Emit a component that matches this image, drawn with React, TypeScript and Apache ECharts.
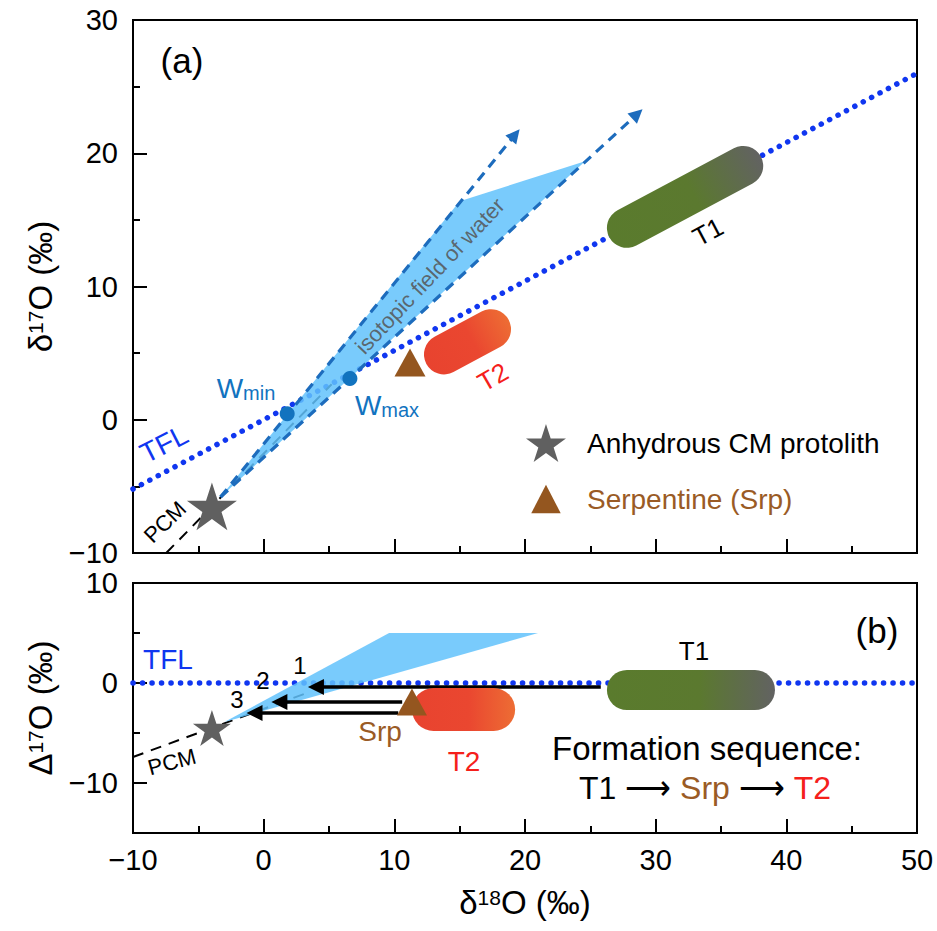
import React, { useEffect, useRef } from "react";
import * as echarts from "echarts";

// ---------- data ----------
const X_RANGE = [-10, 50];
const Y_TOP_RANGE = [-10, 30];
const Y_BOT_RANGE = [-15, 10];
const Y_BOT_LABELS = [-10, 0, 10];
const Y_BOT_MINOR = [-5, 5];

// terrestrial fractionation line
const TFL_TOP = [[-10, -5.2], [50, 26.0]];
const TFL_BOT = [[-10, 0], [50, 0]];
// primitive chondrite mineral line
const PCM_TOP = [[-7.46, -10], [5.2, 2.66]];
const PCM_BOT = [[-10, -7.4], [3.5, -0.9]];
// isotopic field of water
const FIELD_TOP = [[-3.3, -5.8], [15.0, 16.4], [24.6, 19.4]];
const FIELD_BOT = [[-3.0, -3.9], [9.6, 5.0], [21.0, 5.0]];
const WATER_HIGH = [[-3.3, -5.8], [19.25, 21.4]];
const WATER_LOW = [[-3.3, -5.8], [28.6, 22.95]];
const W_MIN = [1.8, 0.45];
const W_MAX = [6.6, 3.1];
// samples
const PROTOLITH_TOP = [-3.96, -6.5];
const PROTOLITH_BOT = [-3.96, -4.5];
const SRP_TOP = [11.2, 4.3];
const SRP_BOT = [11.35, -1.9];
const T1_TOP = [[27.8, 14.4], [36.7, 19.05]];
const T2_TOP = [[13.8, 4.9], [17.4, 6.8]];
const T1_BOT = [[27.8, -0.7], [37.6, -0.7]];
const T2_BOT = [[13.0, -2.65], [17.6, -2.65]];
// formation sequence arrows (Δ17O panel)
const ARROW_1 = [[25.8, -0.4], [4.0, -0.4]];
const ARROW_2 = [[10.6, -1.9], [1.2, -1.9]];
const ARROW_3 = [[10.3, -3.0], [-0.7, -3.0]];

// ---------- styles ----------
const FONT = "Liberation Sans, Arial, Helvetica, sans-serif";
const C_TFL = "#1036f0";
const C_FIELD = "#62c2fb";
const C_WATER = "#1d6cbd";
const C_W = "#1273bf";
const C_STAR = "#606060";
const C_SRP = "#94561f";
const C_SRP_TXT = "#9a5b25";
const C_T2_TXT = "#f5201b";
const STAR =
  "path://M0,-10L2.245,-3.09L9.511,-3.09L3.633,1.18L5.878,8.09L0,3.82L-5.878,8.09L-3.633,1.18L-9.511,-3.09L-2.245,-3.09Z";
const TRI_ICON = "path://M0,0M40,40M4.5,35L20,5L35.5,35Z";
const T1_STOPS = [
  [0, "#5a7b2d"],
  [0.55, "#5b792f"],
  [1, "#626262"],
];
const T2_STOPS = [
  [0, "#e8432f"],
  [0.55, "#ea4730"],
  [1, "#ed6d34"],
];

const fmt = (v: number) => (v < 0 ? "\u2212" + Math.abs(v) : String(v));

function lineSeries(data: number[][], xi: number, yi: number, style: any, z: number) {
  return {
    type: "line",
    xAxisIndex: xi,
    yAxisIndex: yi,
    data,
    symbol: "none",
    silent: true,
    lineStyle: style,
    z,
  };
}

function fieldSeries(pts: number[][], xi: number, yi: number) {
  return {
    type: "custom",
    xAxisIndex: xi,
    yAxisIndex: yi,
    data: pts,
    encode: { x: 0, y: 1 },
    silent: true,
    z: 3,
    renderItem: (params: any, api: any) => {
      if (params.dataIndex !== 0) return null;
      const points = pts.map((p) => api.coord(p));
      return { type: "polygon", shape: { points }, style: { fill: C_FIELD, opacity: 0.85 } };
    },
  };
}

function capsuleSeries(pts: number[][], xi: number, yi: number, width: number, stops: any[]) {
  return {
    type: "custom",
    xAxisIndex: xi,
    yAxisIndex: yi,
    data: [[pts[0][0], pts[0][1], pts[1][0], pts[1][1]]],
    encode: { x: [0, 2], y: [1, 3] },
    silent: true,
    z: 5,
    renderItem: (params: any, api: any) => {
      const a = api.coord([api.value(0), api.value(1)]);
      const b = api.coord([api.value(2), api.value(3)]);
      const dx = b[0] - a[0];
      const dy = b[1] - a[1];
      const len = Math.hypot(dx, dy) || 1;
      const ux = dx / len;
      const uy = dy / len;
      const r = width / 2;
      const grad = new echarts.graphic.LinearGradient(
        a[0] - ux * r,
        a[1] - uy * r,
        b[0] + ux * r,
        b[1] + uy * r,
        stops.map((s) => ({ offset: s[0], color: s[1] })),
        true
      );
      return {
        type: "line",
        shape: { x1: a[0], y1: a[1], x2: b[0], y2: b[1] },
        style: { stroke: grad, lineWidth: width, lineCap: "round", fill: null },
      };
    },
  };
}

function arrowSeries(lines: number[][][], xi: number, yi: number, color: string, type: any, size: number, width: number) {
  return {
    type: "lines",
    coordinateSystem: "cartesian2d",
    xAxisIndex: xi,
    yAxisIndex: yi,
    symbol: ["none", "triangle"],
    symbolSize: size,
    silent: true,
    z: 4,
    lineStyle: { color, width, type, opacity: 1, curveness: 0 },
    data: lines.map((c) => ({ coords: c })),
  };
}

const tickStyle = { color: "#000", width: 2 };
const labelStyle = { fontSize: 29, color: "#000", fontFamily: FONT };
const nameStyle = {
  fontSize: 33,
  lineHeight: 30,
  color: "#000",
  fontFamily: FONT,
  rich: { sup: { fontSize: 21, lineHeight: 21, verticalAlign: "top", fontFamily: FONT, color: "#000" } },
};

function txt(text: string, x: number, y: number, size: number, fill: string, rotDeg = 0, extra: any = {}) {
  return {
    type: "text",
    x,
    y,
    rotation: (rotDeg * Math.PI) / 180,
    silent: true,
    z: 20,
    style: { text, fontSize: size, fontFamily: FONT, fill, align: "center", verticalAlign: "middle", ...extra },
  };
}

const subRich = {
  w: { fontSize: 28, lineHeight: 30, fontFamily: FONT, fill: C_W },
  s: { fontSize: 20, lineHeight: 20, verticalAlign: "bottom", fontFamily: FONT, fill: C_W },
};

const xAxisBase = {
  type: "value",
  min: X_RANGE[0],
  max: X_RANGE[1],
  interval: 10,
  axisLine: { onZero: false, lineStyle: tickStyle },
  axisTick: { inside: true, length: 14, lineStyle: tickStyle },
  minorTick: { show: true, splitNumber: 2, length: 7, lineStyle: tickStyle },
  splitLine: { show: false },
};

export default function App() {
  const ref = useRef<HTMLDivElement>(null);
  useEffect(() => {
    if (!ref.current) return;
    const chart = echarts.init(ref.current, undefined, { renderer: "svg" });
    const option: any = {
      animation: false,
      backgroundColor: "#fff",
      grid: [
        { left: 133, top: 20, width: 784, height: 533, show: true, borderColor: "#000", borderWidth: 2 },
        { left: 133, top: 583, width: 784, height: 250, show: true, borderColor: "#000", borderWidth: 2 },
      ],
      xAxis: [
        { ...xAxisBase, gridIndex: 0, position: "bottom", axisLabel: { show: false } },
        {
          ...xAxisBase,
          gridIndex: 1,
          position: "bottom",
          axisLabel: { ...labelStyle, margin: 12, formatter: fmt },
          name: "δ{sup|18}O (‰)",
          nameLocation: "middle",
          nameGap: 54,
          nameTextStyle: nameStyle,
        },
      ],
      yAxis: [
        {
          gridIndex: 0,
          type: "value",
          position: "left",
          min: Y_TOP_RANGE[0],
          max: Y_TOP_RANGE[1],
          interval: 10,
          axisLine: { onZero: false, lineStyle: tickStyle },
          axisTick: { inside: true, length: 14, lineStyle: tickStyle },
          minorTick: { show: true, splitNumber: 2, length: 7, lineStyle: tickStyle },
          axisLabel: { ...labelStyle, margin: 15, formatter: fmt },
          splitLine: { show: false },
          name: "δ{sup|17}O (‰)",
          nameLocation: "middle",
          nameGap: 78,
          nameTextStyle: nameStyle,
        },
        {
          gridIndex: 1,
          type: "value",
          position: "left",
          min: Y_BOT_RANGE[0],
          max: Y_BOT_RANGE[1],
          interval: 5,
          axisLine: { onZero: false, lineStyle: tickStyle },
          axisTick: { inside: true, length: 14, lineStyle: tickStyle, customValues: Y_BOT_LABELS },
          axisLabel: {
            ...labelStyle,
            margin: 15,
            customValues: Y_BOT_LABELS,
            formatter: (v: number) => (Y_BOT_LABELS.indexOf(v) >= 0 ? fmt(v) : ""),
          },
          splitLine: { show: false },
          name: "Δ{sup|17}O (‰)",
          nameLocation: "middle",
          nameGap: 78,
          nameTextStyle: nameStyle,
        },
        {
          gridIndex: 1,
          type: "value",
          position: "left",
          offset: 0,
          min: Y_BOT_RANGE[0],
          max: Y_BOT_RANGE[1],
          interval: 5,
          axisLine: { show: false, onZero: false },
          axisTick: { inside: true, length: 7, lineStyle: tickStyle, customValues: Y_BOT_MINOR },
          axisLabel: { show: false },
          splitLine: { show: false },
        },
      ],
      legend: {
        left: 521,
        top: 419,
        orient: "vertical",
        itemWidth: 72,
        itemHeight: 38,
        itemGap: 18,
        selectedMode: false,
        symbolKeepAspect: true,
        textStyle: { fontSize: 28, fontFamily: FONT, color: "#000" },
        data: [
          { name: "Anhydrous CM protolith", icon: STAR, textStyle: { color: "#000" } },
          { name: "Serpentine (Srp)", icon: TRI_ICON, textStyle: { color: C_SRP_TXT } },
        ],
      },
      series: [
        // ---- panel (a)
        lineSeries(TFL_TOP, 0, 0, { color: C_TFL, width: 5.5, type: [0.1, 9.4], cap: "round" }, 2),
        lineSeries(PCM_TOP, 0, 0, { color: "#000", width: 2, type: [11, 8] }, 2),
        fieldSeries(FIELD_TOP, 0, 0),
        arrowSeries([WATER_HIGH, WATER_LOW], 0, 0, C_WATER, [10, 7], 14, 3.2),
        capsuleSeries(T1_TOP, 0, 0, 40, T1_STOPS),
        capsuleSeries(T2_TOP, 0, 0, 40, T2_STOPS),
        {
          type: "scatter",
          xAxisIndex: 0,
          yAxisIndex: 0,
          symbolSize: 15,
          itemStyle: { color: C_W, opacity: 1 },
          data: [W_MIN, W_MAX],
          z: 6,
          silent: true,
        },
        {
          name: "Anhydrous CM protolith",
          type: "scatter",
          xAxisIndex: 0,
          yAxisIndex: 0,
          symbol: STAR,
          symbolKeepAspect: true,
          symbolSize: 50,
          itemStyle: { color: C_STAR, opacity: 1 },
          data: [PROTOLITH_TOP],
          z: 7,
          silent: true,
        },
        {
          name: "Serpentine (Srp)",
          type: "scatter",
          xAxisIndex: 0,
          yAxisIndex: 0,
          symbol: "triangle",
          symbolSize: [31, 28],
          itemStyle: { color: C_SRP, opacity: 1 },
          data: [SRP_TOP],
          z: 7,
          silent: true,
        },
        // ---- panel (b)
        lineSeries(TFL_BOT, 1, 1, { color: C_TFL, width: 5.5, type: [0.1, 9.4], cap: "round" }, 2),
        lineSeries(PCM_BOT, 1, 1, { color: "#000", width: 2, type: [11, 8] }, 2),
        fieldSeries(FIELD_BOT, 1, 1),
        arrowSeries([ARROW_1, ARROW_2, ARROW_3], 1, 1, "#000", "solid", 16, 3.5),
        capsuleSeries(T1_BOT, 1, 1, 40, T1_STOPS),
        capsuleSeries(T2_BOT, 1, 1, 43, T2_STOPS),
        {
          name: "Anhydrous CM protolith",
          type: "scatter",
          xAxisIndex: 1,
          yAxisIndex: 1,
          symbol: STAR,
          symbolKeepAspect: true,
          symbolSize: 38,
          itemStyle: { color: C_STAR, opacity: 1 },
          data: [PROTOLITH_BOT],
          z: 7,
          silent: true,
        },
        {
          name: "Serpentine (Srp)",
          type: "scatter",
          xAxisIndex: 1,
          yAxisIndex: 1,
          symbol: "triangle",
          symbolSize: [30, 27],
          itemStyle: { color: C_SRP, opacity: 1 },
          data: [SRP_BOT],
          z: 7,
          silent: true,
        },
      ],
      graphic: [
        txt("(a)", 182, 60, 35, "#000"),
        txt("(b)", 877, 630, 35, "#000"),
        txt("TFL", 164, 444, 28, C_TFL, 27),
        txt("PCM", 165, 522, 22, "#000", 44),
        txt("{w|W}{s|min}", 246, 388, 28, C_W, 0, { rich: subRich }),
        txt("{w|W}{s|max}", 387, 405, 28, C_W, 0, { rich: subRich }),
        txt("isotopic field of water", 430, 276, 22, "#555", 46.5, { opacity: 0.85 }),
        txt("T1", 708, 232, 26, "#000", 28),
        txt("T2", 493, 377, 26, C_T2_TXT, 30),
        txt("TFL", 168, 659, 28, C_TFL),
        txt("1", 300, 665, 24, "#000"),
        txt("2", 263, 680, 24, "#000"),
        txt("3", 237, 699, 24, "#000"),
        txt("PCM", 172, 762, 22, "#000", 15),
        txt("Srp", 380, 731, 28, C_SRP_TXT),
        txt("T2", 464, 761, 28, C_T2_TXT),
        txt("T1", 694, 651, 26, "#000"),
        txt("Formation sequence:", 707, 748, 33, "#000"),
        txt("{k|T1 ⟶ }{b|Srp}{k| ⟶ }{r|T2}", 705, 788, 32, "#000", 0, {
          rich: {
            k: { fontSize: 32, fontFamily: FONT, fill: "#000" },
            b: { fontSize: 32, fontFamily: FONT, fill: C_SRP_TXT },
            r: { fontSize: 32, fontFamily: FONT, fill: C_T2_TXT },
          },
        }),
      ],
    };
    chart.setOption(option);
    return () => chart.dispose();
  }, []);
  return <div ref={ref} style={{ position: "fixed", left: 0, top: 0, width: 937, height: 931 }} />;
}
